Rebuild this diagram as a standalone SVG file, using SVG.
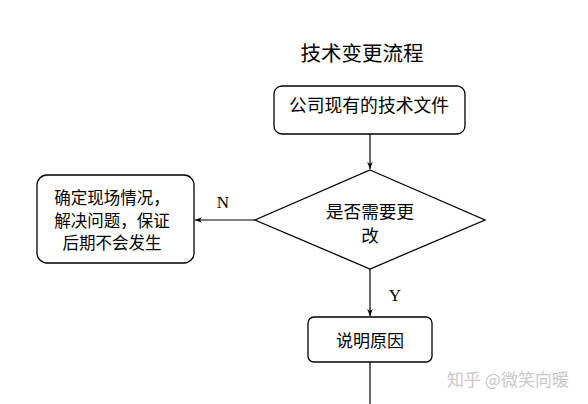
<svg xmlns="http://www.w3.org/2000/svg" width="588" height="404" viewBox="0 0 588 404">
<style>
.n{fill:#fff;stroke:#000;stroke-width:1.3}
.t{font-family:"Noto Sans CJK SC","Noto Sans",sans-serif;font-size:17px;fill:#000;text-anchor:middle;dominant-baseline:central}
.s{font-size:16.5px}
.l{font-family:"Liberation Serif",serif;font-size:17px;fill:#000;text-anchor:middle;dominant-baseline:central}
.c{fill:none;stroke:#000;stroke-width:1.2}
</style>
<defs>
<marker id="a" viewBox="0 0 10 10" refX="10" refY="5" markerWidth="7" markerHeight="7" orient="auto" markerUnits="userSpaceOnUse">
<path d="M0,1 L10,5 L0,9 L3,5 Z" fill="#000"/>
</marker>
</defs>
<rect width="588" height="404" fill="#fff"/>
<g id="title"><text class="t" x="362" y="52" style="font-size:20.5px">技术变更流程</text></g>
<g id="connectors">
<line class="c" x1="370" y1="134" x2="370" y2="169" marker-end="url(#a)"/>
<line class="c" x1="255" y1="220" x2="195" y2="220" marker-end="url(#a)"/>
<line class="c" x1="370" y1="269" x2="370" y2="316" marker-end="url(#a)"/>
<line class="c" x1="370" y1="362" x2="370" y2="404"/>
<text class="l" x="223" y="202">N</text>
<text class="l" x="395" y="295">Y</text>
</g>
<g id="n1"><rect class="n" x="274" y="86" width="191" height="48" rx="8"/><text class="t" x="369" y="104" style="font-size:17.8px">公司现有的技术文件</text></g>
<g id="n2"><path class="n" d="M370,170 L485,220 L370,269 L255,220 Z"/><text class="t" x="370" y="210" style="font-size:17.6px">是否需要更</text><text class="t" x="370" y="234" style="font-size:17.6px">改</text></g>
<g id="n3"><rect class="n" x="37" y="175" width="157" height="88" rx="10"/><text class="t s" x="112" y="197">确定现场情况，</text><text class="t s" x="112" y="219.5">解决问题，保证</text><text class="t s" x="112" y="242">后期不会发生</text></g>
<g id="n4"><rect class="n" x="308" y="317" width="124" height="45" rx="6"/><text class="t" x="370" y="339">说明原因</text></g>
<g id="wm"><text class="t" x="508" y="378" style="fill:#c8c8c8">知乎 @微笑向暖</text></g>
</svg>
